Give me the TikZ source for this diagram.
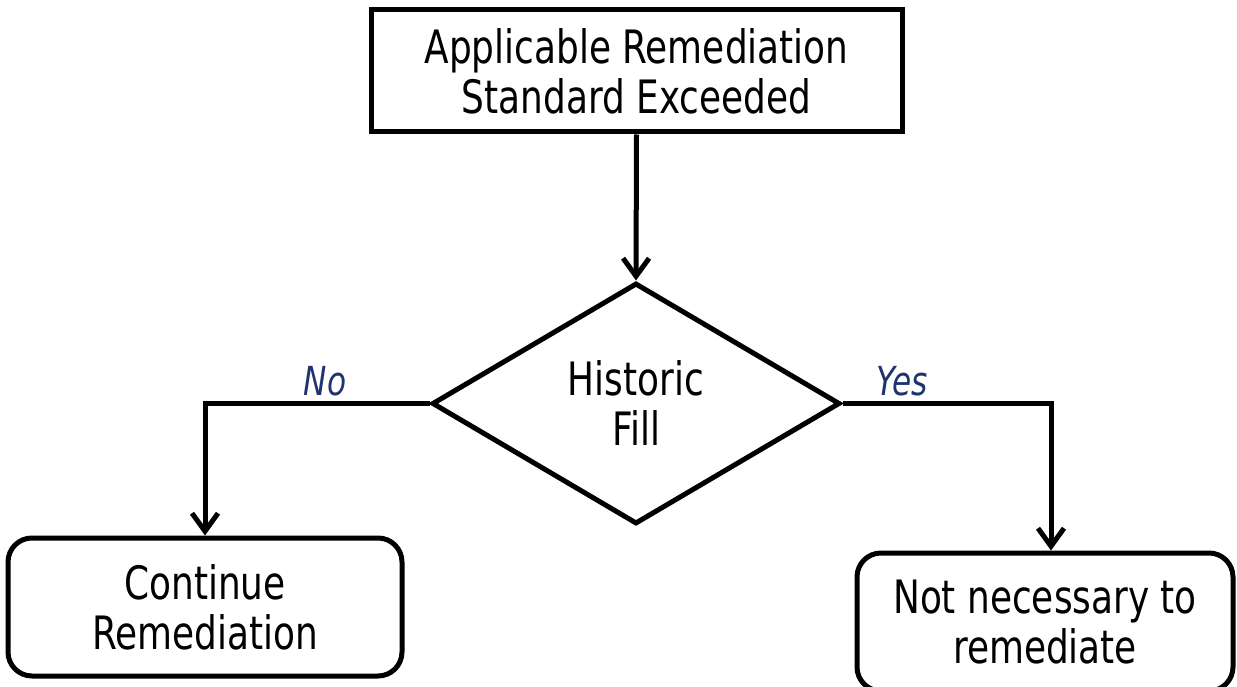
\documentclass[tikz,border=0pt]{standalone}
\usepackage{fontspec}
\setmainfont[FakeStretch=0.78]{DejaVu Sans}
\usetikzlibrary{shapes.geometric,arrows.meta}
\definecolor{labelblue}{HTML}{1F3370}
\begin{document}
\begin{tikzpicture}[x=1pt,y=-1pt,line width=5pt,
  boxtext/.style={align=center,font=\fontsize{46}{50}\selectfont,inner sep=0pt},
  plainbox/.style={boxtext,draw,rectangle},
  roundbox/.style={boxtext,draw,rectangle,rounded corners=24pt},
  decision/.style={boxtext,draw,diamond,inner sep=0pt},
  flow/.style={-{Straight Barb[length=18pt,width=26pt]}},
  branch/.style={font=\fontsize{40}{42}\selectfont\itshape,text=labelblue,anchor=base,inner sep=0pt}]
\useasboundingbox (0,0) rectangle (1237,687);

% boxes and decision
\node[plainbox,minimum width=531pt,minimum height=122pt] (start) at (636.5,71)
  {Applicable Remediation\\Standard Exceeded};
\node[decision,minimum width=408pt,minimum height=241pt] (fill) at (636,403.5)
  {Historic\\Fill};
\node[roundbox,minimum width=394pt,minimum height=138pt] (cont) at (205,607)
  {Continue\\Remediation};
\node[roundbox,minimum width=376pt,minimum height=138pt] (notnec) at (1045,622)
  {Not necessary to\\remediate};

% branch corners
\coordinate (nocorner) at (205,403.5);
\coordinate (yescorner) at (1051,403.5);

% connectors
\draw[flow] (start.south) -- (fill.north);
\draw[flow] (fill.west) -- (nocorner) -- (cont.north);
\draw[flow] (fill.east) -- (yescorner) -- (yescorner |- notnec.north);

% branch labels
\node[branch] (nolabel) at (325,395) {No};
\node[branch] (yeslabel) at (902,395) {Yes};
\end{tikzpicture}
\end{document}
